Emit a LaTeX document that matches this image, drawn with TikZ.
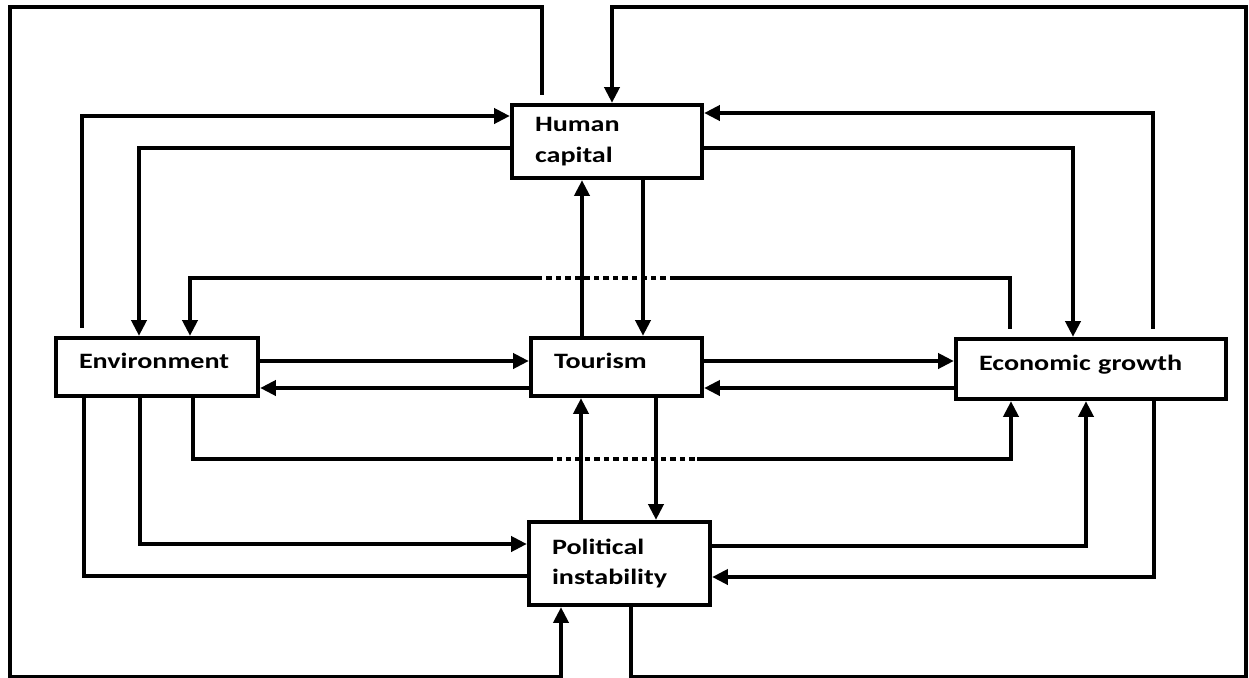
\documentclass[tikz,border=0pt]{standalone}
\usepackage{fontspec}
\newfontfamily\boxfont{Carlito}[FakeStretch=1.28]
\usetikzlibrary{arrows.meta}

\begin{document}
\begin{tikzpicture}[
  x=0.02cm, y=-0.02cm,
  box/.style={rectangle, draw, line width=2.4pt, inner xsep=0.46cm,
    align=left, font=\boxfont\bfseries\fontsize{12.5}{17.6}\selectfont},
  onebox/.style={box, text height=9pt, text depth=7pt},
  line/.style={line width=2.3pt},
  arrow/.style={line, -{Triangle[length=9pt, width=8.5pt]}},
  dots/.style={line, dash pattern=on 0.11cm off 0.08cm},
  gap/.style={shorten <=0.16cm},
]
\useasboundingbox (0,0) rectangle (1249,677);

% Boxes
\node[box, text width=2.88cm, minimum height=1.46cm] (hc) at (607,141.5) {Human\\capital};
\node[onebox, text width=3.12cm, minimum height=1.16cm] (env) at (157,367) {Environment};
\node[onebox, text width=2.5cm, minimum height=1.16cm] (tour) at (616.5,367) {Tourism};
\node[onebox, text width=4.48cm, minimum height=1.2cm] (eg) at (1091,369) {Economic growth};
\node[box, text width=2.7cm, minimum height=1.66cm] (pi) at (619.5,563.5) {Political\\instability};

% Outer loops
\draw[arrow, gap] (hc.north -| 542,0) -- (542,7) -- (10,7) -- (10,677) -- (561,677) -- (pi.south -| 561,0);
\draw[arrow] (pi.south -| 631,0) -- (631,677) -- (1246,677) -- (1246,7) -- (612,7) -- (hc.north -| 612,0);

% Human capital links
\draw[arrow, gap] (env.north -| 82,0) |- (hc.west |- 0,116);
\draw[arrow] (hc.west |- 0,148) -| (env.north -| 139,0);
\draw[arrow] (hc.east |- 0,148) -| (eg.north -| 1073,0);
\draw[arrow, gap] (eg.north -| 1153,0) |- (hc.east |- 0,113);
\draw[arrow] (tour.north -| 582,0) -- (hc.south -| 582,0);
\draw[arrow] (hc.south -| 643,0) -- (tour.north -| 643,0);

% Economic growth to environment (dotted middle)
\coordinate (upR) at (675,278);
\coordinate (upL) at (538,278);
\draw[line, gap] (eg.north -| 1010,0) |- (upR);
\draw[dots] (upR) -- (upL);
\draw[arrow] (upL) -| (env.north -| 190,0);

% Environment to economic growth (dotted middle)
\coordinate (loL) at (547,459);
\coordinate (loR) at (697,459);
\draw[line] (env.south -| 193,0) |- (loL);
\draw[dots] (loL) -- (loR);
\draw[arrow] (loR) -| (eg.south -| 1011,0);

% Tourism links
\draw[arrow] (env.east |- 0,361) -- (tour.west |- 0,361);
\draw[arrow] (tour.west |- 0,388) -- (env.east |- 0,388);
\draw[arrow] (tour.east |- 0,361) -- (eg.west |- 0,361);
\draw[arrow] (eg.west |- 0,388) -- (tour.east |- 0,388);
\draw[arrow] (pi.north -| 581,0) -- (tour.south -| 581,0);
\draw[arrow] (tour.south -| 656,0) -- (pi.north -| 656,0);

% Political instability links
\draw[arrow] (env.south -| 140,0) |- (pi.west |- 0,544);
\draw[line] (env.south -| 84,0) |- (pi.west |- 0,576);
\draw[arrow] (pi.east |- 0,546) -| (eg.south -| 1086,0);
\draw[arrow] (eg.south -| 1154,0) |- (pi.east |- 0,577);

\end{tikzpicture}
\end{document}
